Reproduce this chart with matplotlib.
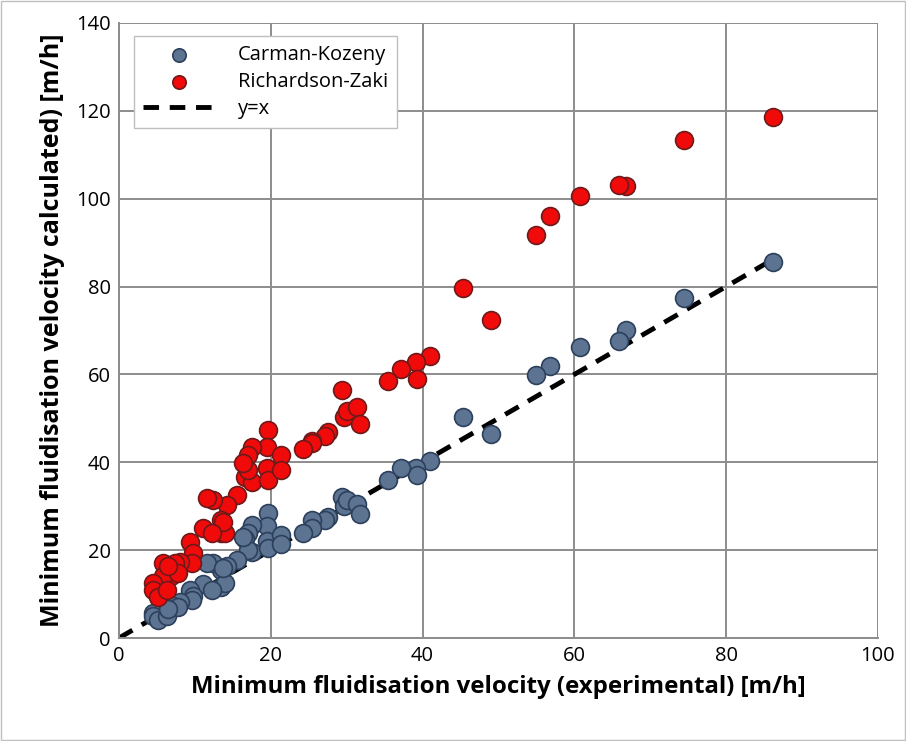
import matplotlib
matplotlib.use("Agg")
import matplotlib.pyplot as plt
import numpy as np

# Experimental minimum fluidisation velocities [m/h]
x_exp = [86.2, 74.5, 66.8, 65.9, 60.8, 56.8, 55.0, 45.3, 49.0, 41.0,
         39.2, 39.3, 37.1, 35.4, 29.4, 29.6, 30.1, 31.3, 31.7, 27.5,
         27.2, 25.5, 25.4, 24.2, 19.7, 19.5, 17.5, 17.0, 16.6, 17.5,
         19.5, 19.7, 21.4, 21.4, 17.0, 15.5, 14.2, 13.5, 13.5, 14.0,
         12.4, 11.55, 13.7, 11.1, 12.2, 9.35, 9.8, 9.6, 8.0, 7.4,
         6.9, 5.8, 5.8, 4.5, 4.5, 5.2, 6.3, 7.8, 6.5, 16.4]

# Richardson-Zaki calculated
rz = [118.5, 113.3, 103.0, 103.2, 100.6, 96.0, 91.8, 79.6, 72.4, 64.3,
      62.9, 59.0, 61.2, 58.6, 56.5, 50.2, 51.6, 52.6, 48.6, 47.0,
      46.0, 44.8, 44.5, 43.0, 47.3, 43.5, 43.5, 41.7, 36.7, 35.6,
      38.6, 36.0, 41.7, 38.2, 38.2, 32.6, 30.3, 26.9, 23.8, 23.9,
      31.4, 31.8, 26.5, 25.0, 24.0, 21.9, 19.3, 17.0, 17.4, 17.0,
      14.0, 17.0, 14.0, 12.5, 10.9, 9.4, 10.9, 14.7, 16.5, 39.8]

# Carman-Kozeny calculated
ck = [85.7, 77.5, 70.2, 67.5, 66.3, 62.0, 59.8, 50.3, 46.5, 40.2,
      38.8, 37.0, 38.6, 36.0, 32.2, 30.1, 31.5, 30.5, 28.3, 27.5,
      26.8, 26.8, 25.0, 24.0, 28.4, 25.4, 25.7, 24.0, 22.5, 19.5,
      22.0, 20.5, 23.4, 21.3, 20.0, 17.8, 16.5, 15.5, 11.7, 12.5,
      17.0, 17.0, 16.0, 12.4, 10.9, 10.9, 9.5, 8.6, 8.2, 7.1,
      7.5, 5.5, 6.0, 5.6, 5.1, 4.1, 4.9, 7.1, 6.5, 23.1]

line_x = [0, 86]

plt.rcParams['font.family'] = ['Open Sans', 'DejaVu Sans']

fig = plt.figure(figsize=(9.06, 7.41), dpi=100)
ax = fig.add_axes([0.1313, 0.139, 0.8377, 0.830])

ax.plot(line_x, line_x, color='black', lw=3.5, dashes=(3.2, 2.2), zorder=2, label='y=x')
ax.scatter(x_exp, ck, s=165, facecolor='#5c7391', edgecolor='#2c405c', linewidth=1.2,
           zorder=3, label='Carman-Kozeny')
ax.scatter(x_exp, rz, s=165, facecolor='#f00a0a', edgecolor='#6e1a1a', linewidth=1.2,
           zorder=4, label='Richardson-Zaki')

ax.set_xlim(0, 100)
ax.set_ylim(0, 140)
ax.set_xticks(np.arange(0, 101, 20))
ax.set_yticks(np.arange(0, 141, 20))
ax.grid(True, color='#8c8c8c', lw=1.4, zorder=0)
ax.set_axisbelow(True)
for s in ['top', 'right']:
    ax.spines[s].set_visible(False)
for s in ['left', 'bottom']:
    ax.spines[s].set_color('#8c8c8c')
    ax.spines[s].set_linewidth(1.4)
ax.tick_params(axis='both', length=0, labelsize=14.5, pad=6, colors='black')

ax.set_xlabel('Minimum fluidisation velocity (experimental) [m/h]', fontsize=17.3,
              fontweight='bold', labelpad=6)
ax.set_ylabel('Minimum fluidisation velocity calculated) [m/h]', fontsize=18,
              fontweight='bold', labelpad=8)

h, l = ax.get_legend_handles_labels()
order = [1, 2, 0]
leg = ax.legend([h[i] for i in order], [l[i] for i in order], loc='upper left',
                bbox_to_anchor=(0.02, 0.979), fontsize=14.5, frameon=True, fancybox=False,
                edgecolor='#bfbfbf', framealpha=1, borderpad=0.45, handlelength=3.6,
                labelspacing=0.35, handletextpad=1.1, markerscale=0.75, borderaxespad=0)
leg.get_frame().set_linewidth(1.0)

fig.patches.append(plt.Rectangle((0.001, 0.001), 0.998, 0.998, transform=fig.transFigure,
                                 fill=False, edgecolor='#bfbfbf', lw=1))

fig.savefig('out.png', dpi=100)
